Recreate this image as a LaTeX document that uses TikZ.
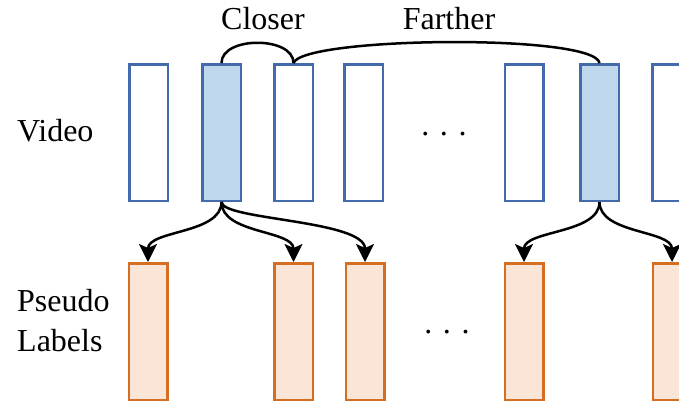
\documentclass[tikz,border=0pt]{standalone}
\usepackage{fontspec}
\setmainfont{Liberation Serif}
\usetikzlibrary{arrows.meta,positioning}
\definecolor{clipblue}{RGB}{66,106,172}
\definecolor{clipfill}{RGB}{191,215,237}
\definecolor{plorange}{RGB}{212,110,34}
\definecolor{plfill}{RGB}{250,229,214}
\tikzset{
  vclip/.style ={rectangle, draw=clipblue, line width=2.5pt, inner sep=0pt,
                 minimum width=38.5pt, minimum height=136.5pt},
  vkey/.style  ={vclip, fill=clipfill},
  plbox/.style ={rectangle, draw=plorange, fill=plfill, line width=2.5pt, inner sep=0pt,
                 minimum width=38.5pt, minimum height=136.5pt},
  rowtext/.style={font=\fontsize{32}{40}\selectfont, inner sep=0pt},
  wave/.style  ={-{Stealth[length=18pt,width=18pt,inset=4pt]}, line width=2.5pt,
                 out=-90, in=90, distance=32pt},
  hop/.style   ={line width=2.5pt},
}

\begin{document}
\begin{tikzpicture}[x=1pt,y=-1pt]
  \fill[white] (0,0) rectangle (679,405);
  \useasboundingbox (0,0) rectangle (679,405);
  % video clips, key frames filled
  \foreach \x/\s [count=\i] in {148.5/vclip, 221.5/vkey, 293.5/vclip, 363.5/vclip,
                                524/vclip, 599.5/vkey, 671.5/vclip}
    \node[\s] (v\i) at (\x,132.5) {};
  % pseudo label boxes
  \foreach \x [count=\i] in {148, 293.5, 365, 524, 672}
    \node[plbox] (l\i) at (\x,331.5) {};

  \node[rowtext, anchor=west] (video) at (17,131) {Video};
  \node[rowtext, anchor=west, align=left] (pseudo) at (17,321) {Pseudo\\Labels};
  \node[rowtext] (dotsv) at (444,134) {. . .};
  \node[rowtext] (dotsl) at (447,332) {. . .};
  \node[rowtext] (closer) at (263,19) {Closer};
  \node[rowtext] (farther) at (449,19) {Farther};

  \draw[hop] (v2.north) to[out=90, in=90, distance=27pt] (v3.north);
  \draw[hop] (v3.north) to[out=70, in=100, out distance=28pt, in distance=30pt] (v6.north);

  \draw[wave] (v2.south) to (l1.north);
  \draw[wave] (v2.south) to (l2.north);
  \draw[wave, out distance=18pt, in distance=42pt] (v2.south) to (l3.north);
  \foreach \j in {4,5}
    \draw[wave] (v6.south) to (l\j.north);
\end{tikzpicture}
\end{document}
